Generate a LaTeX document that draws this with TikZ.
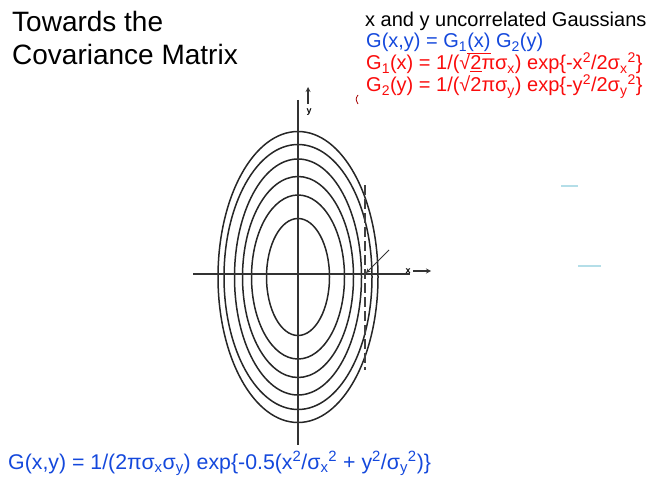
\documentclass[tikz,border=0pt]{standalone}
\usepackage{fontspec}
\setmainfont{Liberation Sans}
\usepackage{xcolor}
\usepackage{tikz}
\usetikzlibrary{arrows, positioning}
\definecolor{gaussblue}{RGB}{20, 72, 220}
\definecolor{gaussred}{RGB}{250, 12, 12}
\definecolor{markblue}{RGB}{180, 222, 232}

\begin{document}
\begin{tikzpicture}[x=1pt, y=-1pt,
    contour/.style={draw=black!85, line width=1.5pt},
    axis/.style={draw=black!80, line width=1.2pt},
    formula/.style={anchor=base west, inner sep=0pt, font=\fontsize{20}{24}\selectfont}]
        \useasboundingbox (0,0) rectangle (647,481);
        % title
        \node[anchor=base west, inner sep=0pt, font=\fontsize{28}{33}\selectfont] (title1) at (12,32) {Towards the};
        \node[anchor=base west, inner sep=0pt, font=\fontsize{28}{33}\selectfont] (title2) at (12,65) {Covariance Matrix};
        % text on the right
        \node[formula] (uncorr) at (365,27) {x and y uncorrelated Gaussians};
        \node[formula, text=gaussblue] (prod) at (366,48) {G(x,y) = G\textsubscript{1}{\color{gaussred}\underline{\color{gaussblue}(x)}} G\textsubscript{2}(y)};
        \node[formula, text=gaussred] (gone) at (366,70) {G\textsubscript{1}(x) = 1/(√\underline{2}πσ\textsubscript{x}) exp\{-x\textsuperscript{2}/2σ\textsubscript{x}\textsuperscript{2}\}};
        \node[formula, text=gaussred] (gtwo) at (366,92) {G\textsubscript{2}(y) = 1/(√2πσ\textsubscript{y}) exp\{-y\textsuperscript{2}/2σ\textsubscript{y}\textsuperscript{2}\}};
        \draw[red!65!black, line width=0.8pt] (358,95) .. controls (355.5,99) .. (358,104);
        % contours
        \foreach \a/\b in {80/145.5, 74/132.5, 63.5/118, 55.5/100.5, 46.5/82, 31.5/58.5} {
            \draw[contour] (298,277) ellipse ({\a} and {\b});
        }
        % axes
        \coordinate (xl) at (193,274);
        \coordinate (xr) at (410,274);
        \coordinate (yt) at (298,100);
        \coordinate (yb) at (298,445);
        \draw[axis] (xl) -- (xr);
        \draw[axis] (yt) -- (yb);
        \node[font=\fontsize{9}{10}\selectfont\bfseries, inner sep=0pt] (ylab) at (309,112) {y};
        \draw[axis, -stealth] (308,104) -- (308,87);
        \node[font=\fontsize{9}{10}\selectfont\bfseries, inner sep=0pt] (xlab) at (408,271) {x};
        \draw[axis, -stealth] (413,271) -- (431,271);
        % dashed tangent and pointer
        \draw[black!75, line width=1.2pt, dash pattern=on 10pt off 4pt] (365,185) -- (365,370);
        \coordinate (ptail) at (389,250);
        \coordinate (phead) at (366,273);
        \draw[black!80, line width=1pt, -stealth] (ptail) -- (phead);
        % stray marks
        \draw[markblue, line width=1.2pt] (561,186) -- (578,186);
        \draw[markblue, line width=1.2pt] (578,266) -- (601,266);
        % bottom formula
        \node[formula, text=gaussblue, font=\fontsize{21.3}{25}\selectfont] (joint) at (8,469) {G(x,y) = 1/(2πσ\textsubscript{x}σ\textsubscript{y}) exp\{-0.5(x\textsuperscript{2}/σ\textsubscript{x}\textsuperscript{2} + y\textsuperscript{2}/σ\textsubscript{y}\textsuperscript{2})\}};
    \end{tikzpicture}
\end{document}
